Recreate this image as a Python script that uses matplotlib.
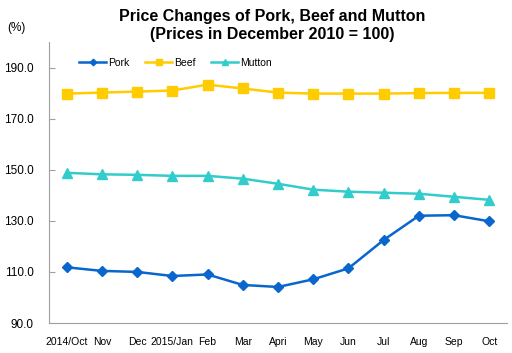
import numpy as np
import matplotlib.pyplot as plt

plt.rcParams['font.family'] = ['Liberation Sans', 'DejaVu Sans']

months = ["2014/Oct", "Nov", "Dec", "2015/Jan", "Feb", "Mar", "Apri",
          "May", "Jun", "Jul", "Aug", "Sep", "Oct"]
pork = [111.8, 110.4, 110.0, 108.4, 109.0, 104.9, 104.1, 107.1, 111.4, 122.5, 132.0, 132.2, 129.8]
beef = [179.8, 180.2, 180.6, 181.0, 183.3, 181.8, 180.2, 179.8, 179.8, 179.8, 180.0, 180.1, 180.1]
mutton = [148.8, 148.2, 148.0, 147.6, 147.6, 146.5, 144.5, 142.2, 141.4, 141.0, 140.6, 139.4, 138.2]

fig = plt.figure(figsize=(5.12, 3.53), dpi=100)
ax = fig.add_axes([49/512, 1-323/353, 458/512, 281/353])

x = np.arange(len(months))
ax.plot(x, pork, color="#0866CC", lw=1.8, marker="D", ms=5.5, label="Pork")
ax.plot(x, beef, color="#FFCC00", lw=1.8, marker="s", ms=7, label="Beef")
ax.plot(x, mutton, color="#33CCCC", lw=1.8, marker="^", ms=7, label="Mutton")

ax.set_xlim(-0.5, 12.5)
ax.set_ylim(90, 200)
ax.set_yticks(np.arange(90, 191, 20))
ax.set_yticklabels(["%.1f" % v for v in np.arange(90, 191, 20)], fontsize=8.5)
ax.set_xticks(x)
ax.set_xticklabels(months, fontsize=7.5)
ax.tick_params(axis="x", length=0, pad=10)
ax.tick_params(axis="y", direction="in", length=4, color="#A0A0A0", pad=11)

for s in ["top", "right"]:
    ax.spines[s].set_visible(False)
for s in ["left", "bottom"]:
    ax.spines[s].set_color("#A0A0A0")

ax.legend(loc="center left", bbox_to_anchor=(0.045, 0.925), ncol=3, frameon=False,
          fontsize=7.5, markerscale=0.6, handlelength=2.6, handletextpad=0.2,
          columnspacing=1.5)

fig.text(272/512, 1-16/353, "Price Changes of Pork, Beef and Mutton", ha="center",
         va="center", fontsize=11.5, fontweight="bold")
fig.text(272/512, 1-34/353, "(Prices in December 2010 = 100)", ha="center",
         va="center", fontsize=11.5, fontweight="bold")
fig.text(16/512, 1-28/353, "(%)", ha="center", va="center", fontsize=8.5)

plt.savefig("out.png")
